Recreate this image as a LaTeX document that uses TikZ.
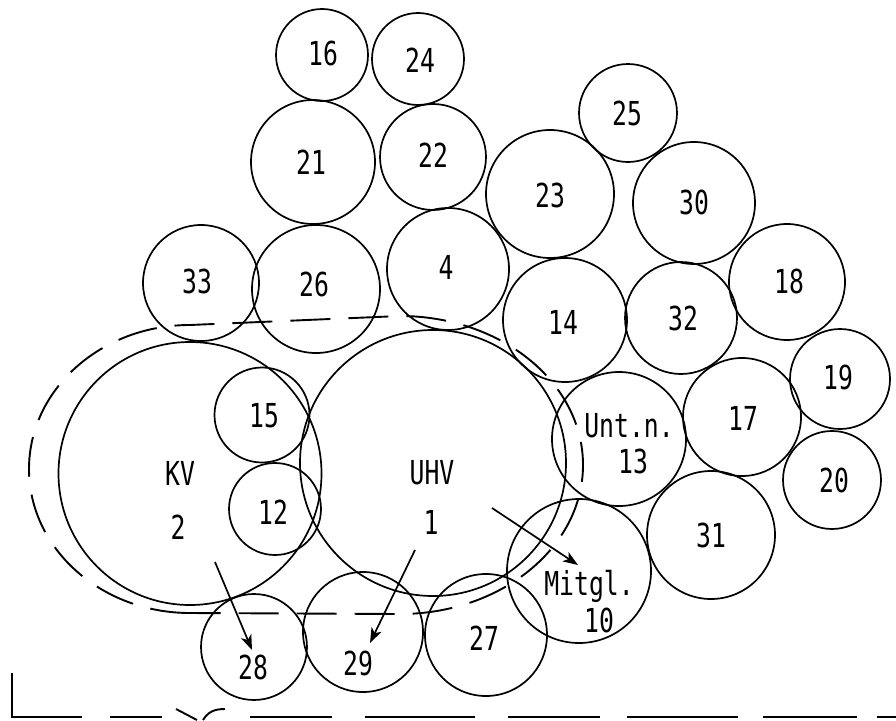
\documentclass[tikz,border=0pt]{standalone}
\usepackage{fontspec}
\newfontfamily\plotfont[FakeStretch=0.75]{DejaVu Sans Mono}
\usetikzlibrary{arrows.meta}
\begin{document}
\begin{tikzpicture}[x=1pt,y=-1pt,
  ring/.style={circle,draw,line width=1.7pt,inner sep=0pt,minimum size=#1},
  lbl/.style={inner sep=0pt,font=\plotfont\fontsize{33}{36}\selectfont,text depth=0pt},
  flow/.style={line width=1.7pt,-{Stealth[length=15pt,width=11pt,inset=4pt]}},
  outline/.style={line width=1.9pt,dash pattern=on 40pt off 18pt},
  baseline/.style={line width=1.9pt}]
\useasboundingbox (0,0) rectangle (896,720);
% circles
\node[ring=92pt]  (c16) at (322,55)  {};
\node[ring=92pt]  (c24) at (418,59)  {};
\node[ring=124pt] (c21) at (313,162) {};
\node[ring=106pt] (c22) at (433,157) {};
\node[ring=98pt]  (c25) at (628,113) {};
\node[ring=128pt] (c23) at (550,194) {};
\node[ring=122pt] (c30) at (694,203) {};
\node[ring=116pt] (c33) at (201,283) {};
\node[ring=128pt] (c26) at (316,289) {};
\node[ring=122pt] (c4)  at (448,269) {};
\node[ring=124pt] (c14) at (565,320) {};
\node[ring=112pt] (c32) at (681,318) {};
\node[ring=116pt] (c18) at (787,282) {};
\node[ring=100pt] (c19) at (840,379) {};
\node[ring=118pt] (c17) at (742,417) {};
\node[ring=98pt]  (c20) at (832,480) {};
\node[ring=128pt] (c31) at (711,535) {};
\node[ring=134pt] (c13) at (619,439) {};
\node[ring=144pt] (c10) at (579,571) {};
\node[ring=122pt] (c27) at (486,635) {};
\node[ring=120pt] (c29) at (363,632) {};
\node[ring=106pt] (c28) at (254,647) {};
\node[ring=92pt]  (c12) at (275,509) {};
\node[ring=95pt]  (c15) at (262,415) {};
\node[ring=263pt] (c2)  at (190,473.5) {};
\node[ring=266pt] (c1)  at (433,463) {};
% labels
\node[lbl] (t16) at (323,53)  {16};
\node[lbl] (t24) at (420,60)  {24};
\node[lbl] (t21) at (311,162) {21};
\node[lbl] (t22) at (433,155) {22};
\node[lbl] (t25) at (627,113) {25};
\node[lbl] (t23) at (550,195) {23};
\node[lbl] (t30) at (694,202) {30};
\node[lbl] (t33) at (197,281) {33};
\node[lbl] (t26) at (314,284) {26};
\node[lbl] (t4)  at (446,267) {4};
\node[lbl] (t14) at (563,322) {14};
\node[lbl] (t32) at (683,318) {32};
\node[lbl] (t18) at (789,281) {18};
\node[lbl] (t19) at (838,377) {19};
\node[lbl] (t17) at (743,418) {17};
\node[lbl] (t20) at (834,480) {20};
\node[lbl] (t31) at (711,535) {31};
\node[lbl] (t13a) at (629,425) {Unt.n.};
\node[lbl] (t13b) at (633,461) {13};
\node[lbl] (t10a) at (589,583) {Mitgl.};
\node[lbl] (t10b) at (599,620) {10};
\node[lbl] (t2a) at (180,473) {KV};
\node[lbl] (t2b) at (178,527) {2};
\node[lbl] (t1a) at (432,472) {UHV};
\node[lbl] (t1b) at (431,522) {1};
\node[lbl] (t15) at (264,415) {15};
\node[lbl] (t12) at (273,512) {12};
\node[lbl] (t28) at (253,667) {28};
\node[lbl] (t29) at (358,663) {29};
\node[lbl] (t27) at (484,638) {27};
% arrows
\coordinate (a2s) at (215,562);
\coordinate (a2e) at (252,650);
\coordinate (a1s) at (415,550);
\coordinate (a1e) at (370,643);
\coordinate (a3s) at (492,508);
\coordinate (a3e) at (578,565);
\draw[flow] (a2s) -- (a2e);
\draw[flow] (a1s) -- (a1e);
\draw[flow] (a3s) -- (a3e);
% dashed outline around KV and UHV
\draw[outline] (190,613) arc[start angle=90,end angle=270,x radius=161,y radius=144]
  -- (400,316) arc[start angle=270,end angle=450,x radius=183,y radius=149] -- cycle;
% bottom line
\draw[baseline] (12,673) -- (12,717) -- (82,717);
\draw[baseline] (110,717) -- (162,717);
\draw[baseline] (176,709) -- (197,720);
\draw[baseline] (203,720) .. controls (208,712) and (214,709) .. (225,709);
\draw[baseline] (250,717) -- (332,717);
\draw[baseline] (365,717) -- (475,717);
\draw[baseline] (508,717) -- (600,717);
\draw[baseline] (627,717) -- (738,717);
\draw[baseline] (763,717) -- (857,717);
\draw[baseline] (877,717) -- (896,717);
\end{tikzpicture}
\end{document}
